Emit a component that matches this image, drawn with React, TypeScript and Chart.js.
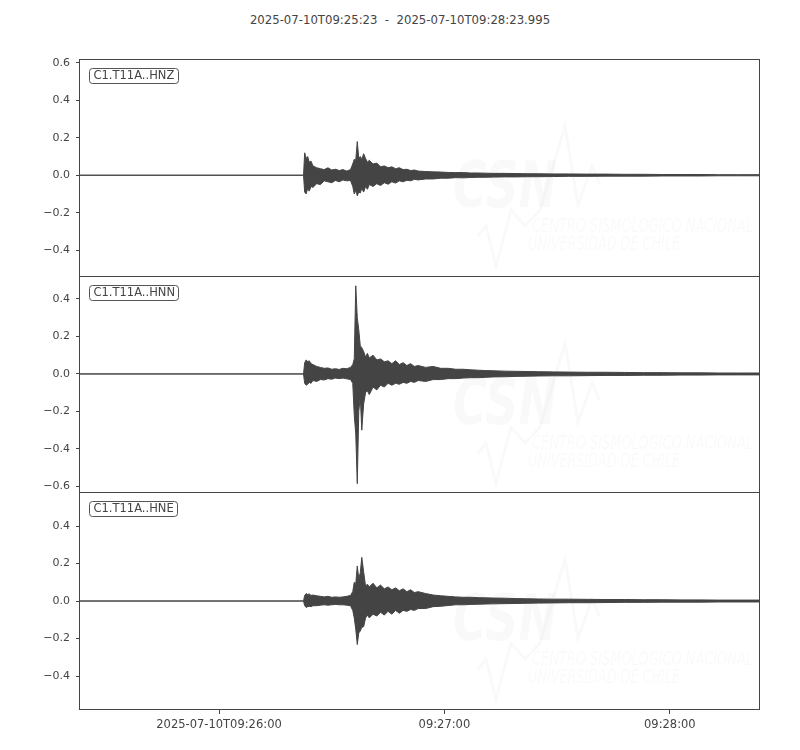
import React, { useEffect, useRef } from "react";
import { Chart, registerables } from "chart.js";

Chart.register(...registerables);

// ---------------- data ----------------
const TITLE = "2025-07-10T09:25:23  -  2025-07-10T09:28:23.995";
const T_MAX = 180.995; // seconds after 09:25:23
const X_TICK_VALUES = [37, 97, 157];
const X_TICK_LABELS = ["2025-07-10T09:26:00", "09:27:00", "09:28:00"];

const CHANNELS = ["C1.T11A..HNZ", "C1.T11A..HNN", "C1.T11A..HNE"];

// seconds after 09:25:23 (envelope sample times)
const TIMES = [
  0, 59.5, 59.8, 60.2, 60.6, 61.0, 61.5, 62, 63, 64,
  65, 66, 67, 68, 69, 70, 71, 72, 72.6, 73.0,
  73.4, 73.8, 74.2, 74.6, 75.0, 75.5, 76, 76.5, 77, 78,
  79, 80, 81, 82, 83, 84, 85, 86, 87, 88,
  89, 90, 92, 94, 96, 98, 100, 102, 104, 106,
  108, 110, 113, 116, 119, 122, 126, 130, 135, 140,
  145, 150, 155, 160, 165, 170, 175, 180.995,
];

const HNZ_UPPER = [
  0, 0, 0.12, 0.09, 0.1, 0.07, 0.075, 0.05, 0.04, 0.035,
  0.03, 0.04, 0.028, 0.032, 0.025, 0.03, 0.022, 0.03, 0.06, 0.085,
  0.08, 0.18, 0.09, 0.1, 0.085, 0.115, 0.09, 0.07, 0.08, 0.06,
  0.065, 0.045, 0.05, 0.04, 0.045, 0.035, 0.04, 0.03, 0.032, 0.025,
  0.028, 0.022, 0.02, 0.018, 0.017, 0.015, 0.014, 0.014, 0.012, 0.012,
  0.011, 0.01, 0.01, 0.009, 0.008, 0.008, 0.007, 0.007, 0.006, 0.006,
  0.005, 0.005, 0.004, 0.004, 0.004, 0.003, 0.003, 0.003,
];
const HNZ_LOWER = [
  0, 0, -0.09, -0.1, -0.07, -0.085, -0.06, -0.065, -0.045, -0.05,
  -0.03, -0.035, -0.04, -0.028, -0.035, -0.025, -0.03, -0.028, -0.06, -0.1,
  -0.08, -0.11, -0.09, -0.095, -0.07, -0.09, -0.06, -0.075, -0.05, -0.06,
  -0.045, -0.055, -0.04, -0.048, -0.035, -0.042, -0.03, -0.035, -0.027, -0.03,
  -0.022, -0.025, -0.02, -0.02, -0.016, -0.016, -0.013, -0.014, -0.012, -0.011,
  -0.011, -0.01, -0.009, -0.009, -0.008, -0.008, -0.007, -0.006, -0.006, -0.005,
  -0.005, -0.005, -0.004, -0.004, -0.004, -0.003, -0.003, -0.003,
];

const HNN_UPPER = [
  0, 0, 0.06, 0.075, 0.065, 0.07, 0.055, 0.05, 0.04, 0.035,
  0.03, 0.032, 0.025, 0.028, 0.024, 0.03, 0.028, 0.035, 0.05, 0.08,
  0.47, 0.3, 0.235, 0.15, 0.14, 0.12, 0.09, 0.11, 0.085, 0.1,
  0.075, 0.08, 0.065, 0.07, 0.055, 0.07, 0.05, 0.06, 0.045, 0.055,
  0.04, 0.045, 0.035, 0.04, 0.03, 0.03, 0.025, 0.025, 0.022, 0.02,
  0.018, 0.017, 0.015, 0.014, 0.013, 0.012, 0.011, 0.01, 0.009, 0.009,
  0.008, 0.007, 0.007, 0.006, 0.006, 0.005, 0.005, 0.005,
];
const HNN_LOWER = [
  0, 0, -0.05, -0.06, -0.055, -0.045, -0.05, -0.035, -0.04, -0.03,
  -0.032, -0.025, -0.028, -0.022, -0.025, -0.022, -0.026, -0.03, -0.05, -0.22,
  -0.32, -0.585, -0.2, -0.12, -0.3, -0.16, -0.1, -0.09, -0.11, -0.07,
  -0.085, -0.06, -0.07, -0.05, -0.06, -0.05, -0.055, -0.045, -0.05, -0.04,
  -0.045, -0.035, -0.04, -0.03, -0.03, -0.025, -0.025, -0.022, -0.02, -0.02,
  -0.018, -0.016, -0.015, -0.013, -0.012, -0.011, -0.01, -0.01, -0.009, -0.008,
  -0.008, -0.007, -0.007, -0.006, -0.006, -0.005, -0.005, -0.005,
];

const HNE_UPPER = [
  0, 0, 0.03, 0.04, 0.035, 0.038, 0.03, 0.032, 0.028, 0.025,
  0.022, 0.025, 0.02, 0.022, 0.02, 0.022, 0.025, 0.03, 0.05, 0.1,
  0.09, 0.187, 0.12, 0.15, 0.233, 0.156, 0.08, 0.09, 0.075, 0.095,
  0.07, 0.085, 0.065, 0.075, 0.06, 0.07, 0.055, 0.065, 0.05, 0.06,
  0.045, 0.05, 0.04, 0.032, 0.028, 0.025, 0.022, 0.02, 0.02, 0.018,
  0.017, 0.016, 0.015, 0.013, 0.012, 0.011, 0.01, 0.01, 0.009, 0.008,
  0.008, 0.007, 0.007, 0.006, 0.006, 0.005, 0.005, 0.005,
];
const HNE_LOWER = [
  0, 0, -0.025, -0.034, -0.03, -0.028, -0.03, -0.025, -0.025, -0.022,
  -0.02, -0.022, -0.02, -0.018, -0.02, -0.02, -0.022, -0.025, -0.05, -0.09,
  -0.15, -0.232, -0.17, -0.16, -0.14, -0.137, -0.09, -0.075, -0.09, -0.07,
  -0.08, -0.06, -0.075, -0.055, -0.07, -0.05, -0.065, -0.05, -0.055, -0.045,
  -0.05, -0.04, -0.04, -0.03, -0.028, -0.024, -0.02, -0.02, -0.018, -0.017,
  -0.016, -0.015, -0.014, -0.013, -0.012, -0.011, -0.01, -0.009, -0.009, -0.008,
  -0.007, -0.007, -0.006, -0.006, -0.006, -0.005, -0.005, -0.005,
];

const HNZ_Y_TICKS = [-0.4, -0.2, 0, 0.2, 0.4, 0.6];
const HNN_Y_TICKS = [-0.6, -0.4, -0.2, 0, 0.2, 0.4];
const HNE_Y_TICKS = [-0.4, -0.2, 0, 0.2, 0.4];
const HNZ_Y_RANGE = [-0.544, 0.616];
const HNN_Y_RANGE = [-0.635, 0.517];
const HNE_Y_RANGE = [-0.581, 0.576];

const WATERMARK_LINES = ["CSN", "CENTRO SISMOLÓGICO NACIONAL", "UNIVERSIDAD DE CHILE"];

// ---------------- styling ----------------
const INK = "#444444";
const FONT = "'DejaVu Sans', sans-serif";

function fmtY(v: number) {
  const n = Math.abs(v) < 1e-9 ? 0 : v;
  return n.toFixed(1).replace("-", "\u2212");
}

function makePanelPlugin(label: string) {
  return {
    id: "panelDeco",
    beforeDatasetsDraw(chart: any) {
      const { ctx, chartArea } = chart;
      const L = chartArea.left;
      const T = chartArea.top;
      ctx.save();
      ctx.beginPath();
      ctx.rect(chartArea.left, chartArea.top, chartArea.right - chartArea.left, chartArea.bottom - chartArea.top);
      ctx.clip();
      const wm = "rgba(0,0,0,0.025)";
      // faint seismic stroke of the logo
      ctx.strokeStyle = wm;
      ctx.lineWidth = 3;
      ctx.beginPath();
      const pts = [
        [398, 176], [406, 166], [416, 206], [431, 150], [445, 166],
        [460, 150], [485, 66], [498, 145], [512, 106], [520, 124],
      ];
      pts.forEach(([x, y], i) => (i ? ctx.lineTo(L + x, T + y) : ctx.moveTo(L + x, T + y)));
      ctx.stroke();
      ctx.fillStyle = wm;
      ctx.textBaseline = "alphabetic";
      ctx.textAlign = "left";
      ctx.font = `italic bold 64px ${FONT}`;
      ctx.fillText(WATERMARK_LINES[0], L + 373, T + 147, 104);
      ctx.font = `italic 20px ${FONT}`;
      ctx.fillText(WATERMARK_LINES[1], L + 452, T + 172, 221);
      ctx.fillText(WATERMARK_LINES[2], L + 448, T + 190, 152);
      ctx.restore();
    },
    afterDraw(chart: any) {
      const { ctx, chartArea } = chart;
      ctx.save();
      // frame
      ctx.strokeStyle = INK;
      ctx.lineWidth = 1;
      const l = Math.round(chartArea.left) - 0.5;
      const t = Math.round(chartArea.top) - 0.5;
      const r = Math.round(chartArea.right) - 0.5;
      const b = Math.round(chartArea.bottom) - 0.5;
      ctx.strokeRect(l, t, r - l, b - t);
      // channel label box
      ctx.font = `11.5px ${FONT}`;
      const w = ctx.measureText(label).width;
      const bx = l + 10;
      const by = t + 9;
      const bw = Math.round(w + 8);
      const bh = 15;
      ctx.beginPath();
      (ctx as any).roundRect(bx, by, bw, bh, 3);
      ctx.fillStyle = "#ffffff";
      ctx.fill();
      ctx.strokeStyle = "#555555";
      ctx.stroke();
      ctx.fillStyle = INK;
      ctx.textBaseline = "middle";
      ctx.textAlign = "left";
      ctx.fillText(label, bx + 4, by + bh / 2 + 0.5);
      ctx.restore();
    },
  };
}

type PanelProps = {
  top: number;
  height: number;
  padTop: number;
  padBottom: number;
  showX: boolean;
  upper: number[];
  lower: number[];
  yTicks: number[];
  yRange: number[];
  label: string;
};

function Panel(p: PanelProps) {
  const ref = useRef<HTMLCanvasElement>(null);
  useEffect(() => {
    if (!ref.current) return;
    const upperPts = TIMES.map((t, i) => ({ x: t, y: p.upper[i] }));
    const lowerPts = TIMES.map((t, i) => ({ x: t, y: p.lower[i] }));
    const chart = new Chart(ref.current, {
      type: "line",
      data: {
        datasets: [
          {
            data: upperPts,
            borderColor: INK,
            backgroundColor: INK,
            borderWidth: 1,
            pointRadius: 0,
            tension: 0,
            fill: "+1",
          },
          {
            data: lowerPts,
            borderColor: INK,
            backgroundColor: INK,
            borderWidth: 1,
            pointRadius: 0,
            tension: 0,
            fill: false,
          },
        ],
      },
      options: {
        animation: false,
        responsive: false,
        maintainAspectRatio: false,
        devicePixelRatio: 1,
        events: [],
        layout: { padding: { left: 0, right: 40, top: p.padTop, bottom: p.padBottom } },
        plugins: {
          legend: { display: false },
          tooltip: { enabled: false },
          title: { display: false },
        },
        scales: {
          x: {
            type: "linear",
            min: 0,
            max: T_MAX,
            display: p.showX,
            afterBuildTicks: (s: any) => {
              s.ticks = X_TICK_VALUES.map((v) => ({ value: v }));
            },
            afterFit: (s: any) => {
              s.height = p.showX ? 40 : 0;
            },
            ticks: {
              autoSkip: false,
              maxRotation: 0,
              padding: 4,
              color: INK,
              font: { family: FONT, size: 11.5 },
              callback: (v: any) => {
                const i = X_TICK_VALUES.indexOf(Number(v));
                return i >= 0 ? X_TICK_LABELS[i] : "";
              },
            },
            grid: { drawOnChartArea: false, drawTicks: true, tickLength: 4, tickColor: INK },
            border: { display: false },
          },
          y: {
            type: "linear",
            min: p.yRange[0],
            max: p.yRange[1],
            afterBuildTicks: (s: any) => {
              s.ticks = p.yTicks.map((v) => ({ value: v }));
            },
            afterFit: (s: any) => {
              s.width = 80;
            },
            ticks: {
              autoSkip: false,
              padding: 6,
              color: INK,
              font: { family: FONT, size: 11 },
              callback: (v: any) => fmtY(Number(v)),
            },
            grid: { drawOnChartArea: false, drawTicks: true, tickLength: 4, tickColor: INK },
            border: { display: false },
          },
        },
      },
      plugins: [makePanelPlugin(p.label)],
    } as any);
    return () => chart.destroy();
  }, []);
  return (
    <canvas
      ref={ref}
      width={800}
      height={p.height}
      style={{ position: "absolute", left: 0, top: p.top, width: 800, height: p.height }}
    />
  );
}

export default function App() {
  return (
    <div
      style={{
        position: "absolute",
        left: 0,
        top: 0,
        width: 800,
        height: 750,
        background: "#ffffff",
        overflow: "hidden",
      }}
    >
      <div
        style={{
          position: "absolute",
          left: 0,
          top: 12,
          width: 800,
          textAlign: "center",
          whiteSpace: "pre",
          fontFamily: FONT,
          fontSize: 11.7,
          lineHeight: "16px",
          color: INK,
        }}
      >
        {TITLE}
      </div>
      <Panel top={40} height={257} padTop={20} padBottom={20} showX={false}
        upper={HNZ_UPPER} lower={HNZ_LOWER} yTicks={HNZ_Y_TICKS} yRange={HNZ_Y_RANGE} label={CHANNELS[0]} />
      <Panel top={257} height={256} padTop={20} padBottom={20} showX={false}
        upper={HNN_UPPER} lower={HNN_LOWER} yTicks={HNN_Y_TICKS} yRange={HNN_Y_RANGE} label={CHANNELS[1]} />
      <Panel top={473} height={277} padTop={20} padBottom={0} showX={true}
        upper={HNE_UPPER} lower={HNE_LOWER} yTicks={HNE_Y_TICKS} yRange={HNE_Y_RANGE} label={CHANNELS[2]} />
    </div>
  );
}
